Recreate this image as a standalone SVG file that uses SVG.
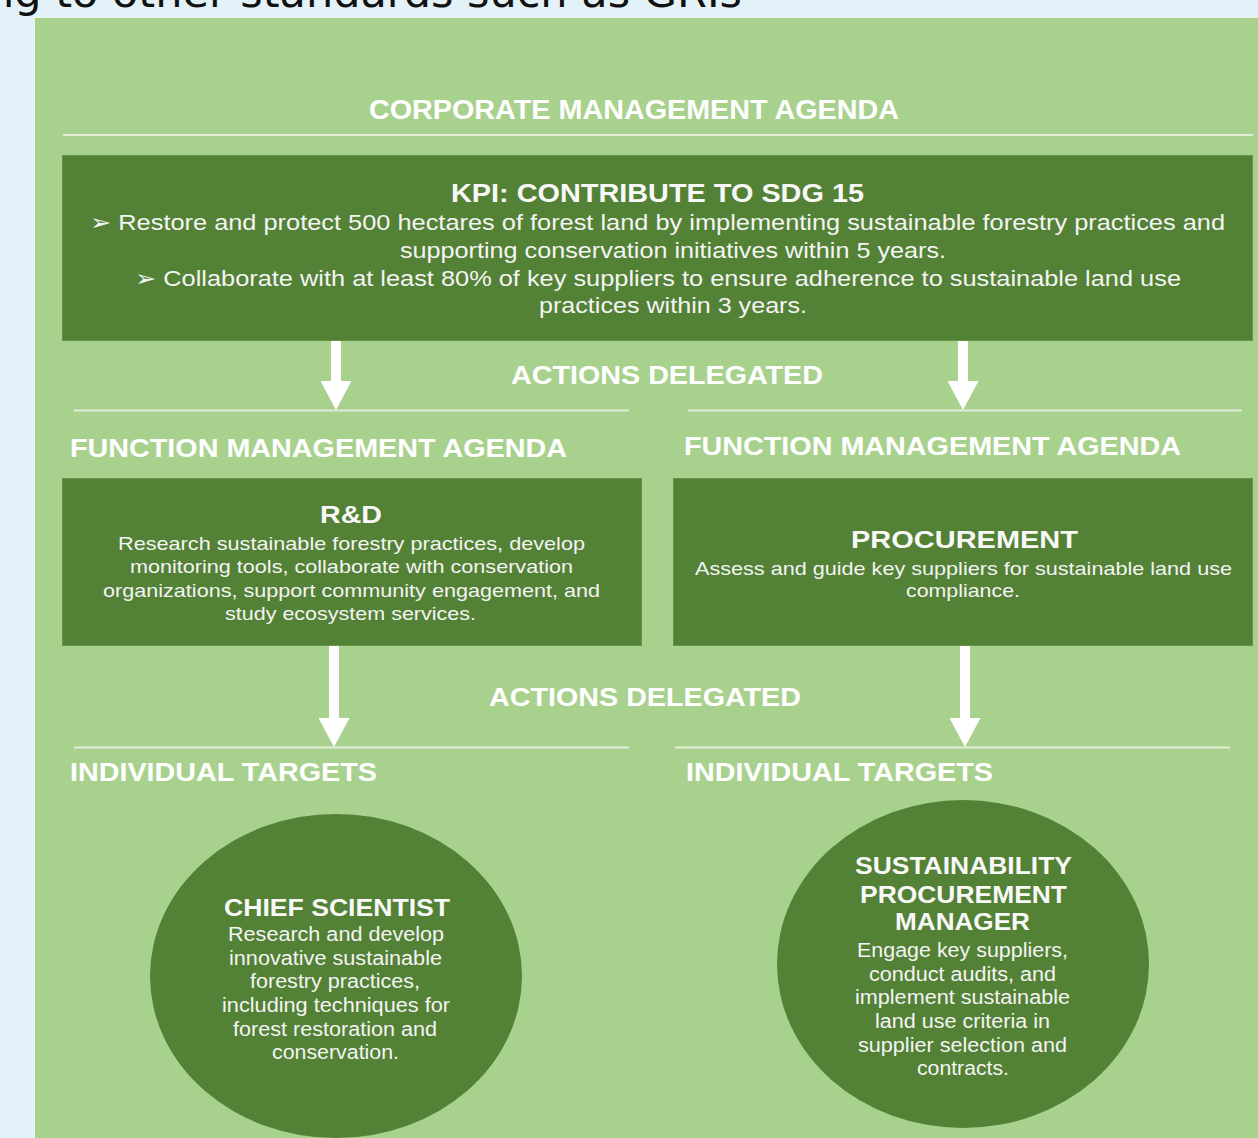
<svg xmlns="http://www.w3.org/2000/svg" width="1258" height="1138" viewBox="0 0 1258 1138">
  <style>
    .hdr { font-family: "Liberation Sans", Arial, sans-serif; font-weight: bold; fill: #ffffff; }
    .t { font-family: "Liberation Sans", Arial, sans-serif; fill: #f4f4f4; }
    .tb { font-family: "Liberation Sans", Arial, sans-serif; font-weight: bold; fill: #f8f8f8; }
    .box { fill: #538135; stroke: #679449; stroke-width: 1; }
    .rule { stroke: #e1ebd7; stroke-width: 2; }
    .shaft { stroke: #ffffff; stroke-width: 10; fill: none; }
  </style>
  <defs>
    <marker id="ah" markerUnits="userSpaceOnUse" markerWidth="30" markerHeight="31" viewBox="0 0 30 31" refX="0" refY="15.5" orient="auto">
      <path d="M0,0 L29,15.5 L0,31 z" fill="#ffffff"/>
    </marker>
  </defs>

  <rect x="0" y="0" width="1258" height="1138" fill="#e3f2f8"/>
  <text x="742" y="7" text-anchor="end" font-family="DejaVu Sans, sans-serif" font-size="43" fill="#111111">ng to other standards such as GRIs</text>
  <rect x="34.5" y="17.5" width="1240" height="1130" fill="#a9d18e" stroke="#f2f7ee" stroke-width="1"/>

  <g id="rules">
    <line class="rule" x1="63" y1="135" x2="1253" y2="135"/>
    <line class="rule" x1="74" y1="410.5" x2="629" y2="410.5"/>
    <line class="rule" x1="688" y1="410.5" x2="1242" y2="410.5"/>
    <line class="rule" x1="74" y1="747.5" x2="629" y2="747.5"/>
    <line class="rule" x1="675" y1="747.5" x2="1230" y2="747.5"/>
  </g>

  <g id="labels">
    <text class="hdr" x="369" y="119" font-size="27" textLength="530" lengthAdjust="spacingAndGlyphs">CORPORATE MANAGEMENT AGENDA</text>
    <text class="hdr" x="511" y="384" font-size="26" textLength="312" lengthAdjust="spacingAndGlyphs">ACTIONS DELEGATED</text>
    <text class="hdr" x="70" y="457" font-size="26" textLength="497" lengthAdjust="spacingAndGlyphs">FUNCTION MANAGEMENT AGENDA</text>
    <text class="hdr" x="684" y="455" font-size="26" textLength="497" lengthAdjust="spacingAndGlyphs">FUNCTION MANAGEMENT AGENDA</text>
    <text class="hdr" x="489" y="706" font-size="26" textLength="312" lengthAdjust="spacingAndGlyphs">ACTIONS DELEGATED</text>
    <text class="hdr" x="70" y="781" font-size="26" textLength="307" lengthAdjust="spacingAndGlyphs">INDIVIDUAL TARGETS</text>
    <text class="hdr" x="686" y="781" font-size="26" textLength="307" lengthAdjust="spacingAndGlyphs">INDIVIDUAL TARGETS</text>
  </g>

  <g id="kpi">
    <rect class="box" x="62.5" y="155.5" width="1190" height="185"/>
    <text class="tb" x="451" y="202" font-size="26" textLength="413" lengthAdjust="spacingAndGlyphs">KPI: CONTRIBUTE TO SDG 15</text>
    <text class="t" x="90" y="230" font-size="22" textLength="1135" lengthAdjust="spacingAndGlyphs"><tspan font-family="DejaVu Sans, sans-serif">➢</tspan>  Restore and protect 500 hectares of forest land by implementing sustainable forestry practices and</text>
    <text class="t" x="400" y="258" font-size="22" textLength="546" lengthAdjust="spacingAndGlyphs">supporting conservation initiatives within 5 years.</text>
    <text class="t" x="135" y="286" font-size="22" textLength="1046" lengthAdjust="spacingAndGlyphs"><tspan font-family="DejaVu Sans, sans-serif">➢</tspan>  Collaborate with at least 80% of key suppliers to ensure adherence to sustainable land use</text>
    <text class="t" x="539" y="313" font-size="22" textLength="268" lengthAdjust="spacingAndGlyphs">practices within 3 years.</text>
  </g>

  <g id="rnd">
    <rect class="box" x="62.5" y="478.5" width="579" height="167"/>
    <text class="tb" x="320" y="523" font-size="24" textLength="62" lengthAdjust="spacingAndGlyphs">R&amp;D</text>
    <text class="t" x="118" y="550" font-size="19" textLength="467" lengthAdjust="spacingAndGlyphs">Research sustainable forestry practices, develop</text>
    <text class="t" x="130" y="573" font-size="19" textLength="443" lengthAdjust="spacingAndGlyphs">monitoring tools, collaborate with conservation</text>
    <text class="t" x="103" y="597" font-size="19" textLength="497" lengthAdjust="spacingAndGlyphs">organizations, support community engagement, and</text>
    <text class="t" x="225" y="620" font-size="19" textLength="251" lengthAdjust="spacingAndGlyphs">study ecosystem services.</text>
  </g>

  <g id="procurement">
    <rect class="box" x="673.5" y="478.5" width="579" height="167"/>
    <text class="tb" x="851" y="548" font-size="24" textLength="227" lengthAdjust="spacingAndGlyphs">PROCUREMENT</text>
    <text class="t" x="695" y="575" font-size="19" textLength="537" lengthAdjust="spacingAndGlyphs">Assess and guide key suppliers for sustainable land use</text>
    <text class="t" x="906" y="597" font-size="19" textLength="114" lengthAdjust="spacingAndGlyphs">compliance.</text>
  </g>

  <g id="chief-scientist">
    <ellipse cx="336" cy="976" rx="186" ry="162" fill="#538135"/>
    <text class="tb" x="224" y="916" font-size="23" textLength="226" lengthAdjust="spacingAndGlyphs">CHIEF SCIENTIST</text>
    <text class="t" x="228" y="941" font-size="19.5" textLength="216" lengthAdjust="spacingAndGlyphs">Research and develop</text>
    <text class="t" x="229" y="965" font-size="19.5" textLength="213" lengthAdjust="spacingAndGlyphs">innovative sustainable</text>
    <text class="t" x="250" y="988" font-size="19.5" textLength="170" lengthAdjust="spacingAndGlyphs">forestry practices,</text>
    <text class="t" x="222" y="1012" font-size="19.5" textLength="228" lengthAdjust="spacingAndGlyphs">including techniques for</text>
    <text class="t" x="233" y="1036" font-size="19.5" textLength="204" lengthAdjust="spacingAndGlyphs">forest restoration and</text>
    <text class="t" x="272" y="1059" font-size="19.5" textLength="127" lengthAdjust="spacingAndGlyphs">conservation.</text>
  </g>

  <g id="sustainability-procurement-manager">
    <ellipse cx="963" cy="964" rx="186" ry="164" fill="#538135"/>
    <text class="tb" x="855" y="874" font-size="23" textLength="217" lengthAdjust="spacingAndGlyphs">SUSTAINABILITY</text>
    <text class="tb" x="860" y="903" font-size="23" textLength="207" lengthAdjust="spacingAndGlyphs">PROCUREMENT</text>
    <text class="tb" x="895" y="930" font-size="23" textLength="135" lengthAdjust="spacingAndGlyphs">MANAGER</text>
    <text class="t" x="857" y="957" font-size="19.5" textLength="211" lengthAdjust="spacingAndGlyphs">Engage key suppliers,</text>
    <text class="t" x="869" y="981" font-size="19.5" textLength="187" lengthAdjust="spacingAndGlyphs">conduct audits, and</text>
    <text class="t" x="855" y="1004" font-size="19.5" textLength="215" lengthAdjust="spacingAndGlyphs">implement sustainable</text>
    <text class="t" x="875" y="1028" font-size="19.5" textLength="175" lengthAdjust="spacingAndGlyphs">land use criteria in</text>
    <text class="t" x="858" y="1052" font-size="19.5" textLength="209" lengthAdjust="spacingAndGlyphs">supplier selection and</text>
    <text class="t" x="917" y="1075" font-size="19.5" textLength="92" lengthAdjust="spacingAndGlyphs">contracts.</text>
  </g>

  <g id="connectors">
    <line class="shaft" x1="336" y1="341" x2="336" y2="381" marker-end="url(#ah)"/>
    <line class="shaft" x1="963" y1="341" x2="963" y2="381" marker-end="url(#ah)"/>
    <line class="shaft" x1="334" y1="646" x2="334" y2="718" marker-end="url(#ah)"/>
    <line class="shaft" x1="965" y1="646" x2="965" y2="718" marker-end="url(#ah)"/>
  </g>
</svg>
